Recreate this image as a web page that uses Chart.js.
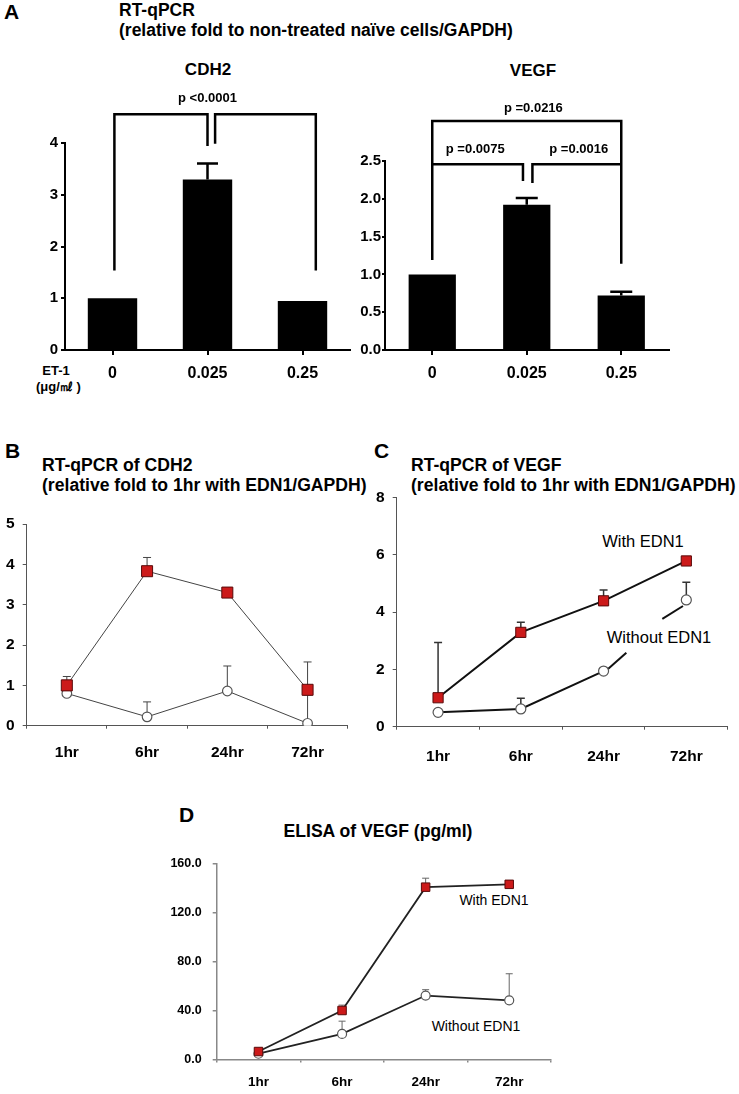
<!DOCTYPE html>
<html>
<head>
<meta charset="utf-8">
<script src="https://cdn.jsdelivr.net/npm/chart.js@4.4.1/dist/chart.umd.min.js"></script>
<style>
  body { margin: 0; background: #fff; width: 739px; height: 1094px; position: relative; overflow: hidden;
         font-family: Arial, "Liberation Sans", sans-serif; }
  .t { position: absolute; white-space: nowrap; color: #000; line-height: 1; }
  .b { font-weight: bold; }
  .c { transform: translate(-50%, -50%); }
  .l { transform: translateY(-50%); }
  canvas { position: absolute; }
</style>
</head>
<body>
<!-- panel A -->
<div class="t b l" style="left:4px;top:11px;font-size:21px">A</div>
<div class="t b l" style="left:119px;top:11px;font-size:17.5px">RT-qPCR</div>
<div class="t b l" style="left:119px;top:31px;font-size:17.5px">(relative fold to non-treated naïve cells/GAPDH)</div>
<div class="t b c" style="left:208px;top:69px;font-size:17px">CDH2</div>
<div class="t b c" style="left:533px;top:70px;font-size:17px">VEGF</div>
<div class="t b c" style="left:56px;top:370px;font-size:13px">ET-1</div>
<div class="t b l" style="left:36px;top:386px;font-size:13px">(μg/㎖ )</div>
<!-- panel B -->
<div class="t b l" style="left:5px;top:450px;font-size:21px">B</div>
<div class="t b l" style="left:42px;top:466px;font-size:17.6px">RT-qPCR of CDH2</div>
<div class="t b l" style="left:42px;top:486px;font-size:17.6px">(relative fold to 1hr with EDN1/GAPDH)</div>
<!-- panel C -->
<div class="t b l" style="left:374px;top:450px;font-size:21px">C</div>
<div class="t b l" style="left:411px;top:466px;font-size:17.6px">RT-qPCR of VEGF</div>
<div class="t b l" style="left:411px;top:486px;font-size:17.6px">(relative fold to 1hr with EDN1/GAPDH)</div>
<div class="t c" style="left:643px;top:541px;font-size:16.5px">With EDN1</div>
<div class="t c" style="left:659px;top:637px;font-size:16.5px">Without EDN1</div>
<!-- panel D -->
<div class="t b l" style="left:179px;top:814px;font-size:21px">D</div>
<div class="t b c" style="left:378px;top:832px;font-size:17.6px">ELISA of VEGF (pg/ml)</div>
<div class="t c" style="left:494px;top:900px;font-size:14px">With EDN1</div>
<div class="t c" style="left:476px;top:1026px;font-size:14px">Without EDN1</div>

<canvas id="cdh2Bar"></canvas>
<canvas id="vegfBar"></canvas>
<canvas id="cdh2Time"></canvas>
<canvas id="vegfTime"></canvas>
<canvas id="elisaTime"></canvas>

<script>
const FONT = 'Arial, "Liberation Sans", sans-serif';

// A: dose response (ET-1, ug/ml)
const doseLabels = ['0', '0.025', '0.25'];
const cdh2Fold = [1.0, 3.30, 0.95];
const cdh2FoldSd = [0, 0.31, 0];
const vegfFold = [1.0, 1.92, 0.72];
const vegfFoldSd = [0, 0.09, 0.05];

// B-D: time course
const timeLabels = ['1hr', '6hr', '24hr', '72hr'];
const cdh2With = [1.0, 3.83, 3.30, 0.89];
const cdh2WithSd = [0.22, 0.34, 0, 0.69];
const cdh2Without = [0.80, 0.22, 0.86, 0.06];
const cdh2WithoutSd = [0, 0.37, 0.62, 0.70];

const vegfWith = [1.01, 3.29, 4.39, 5.78];
const vegfWithSd = [1.93, 0.35, 0.38, 0];
const vegfWithout = [0.50, 0.62, 1.94, 4.42];
const vegfWithoutSd = [0, 0.37, 0, 0.62];

const elisaWith = [6.5, 40.0, 140.7, 143.0];
const elisaWithSd = [0, 4.4, 7.3, 0];
const elisaWithout = [4.7, 20.9, 52.2, 48.3];
const elisaWithoutSd = [0, 10.4, 4.8, 21.7];

// significance brackets, in (category index, value) units
const cdh2Brackets = [
    [[0.02, 1.54], [0.02, 4.56], [1.0, 4.56], [1.0, 3.95]],
    [[1.08, 3.99], [1.08, 4.56], [2.14, 4.56], [2.14, 1.54]]
];
const cdh2PLabels = [{ text: 'p <0.0001', x: 1.0, y: 4.86 }];
const vegfBrackets = [
    [[0, 1.19], [0, 3.03], [2, 3.03], [2, 1.14]],
    [[0, 2.456], [0.96, 2.456], [0.96, 2.235]],
    [[1.06, 2.21], [1.06, 2.456], [2, 2.456]]
];
const vegfPLabels = [
    { text: 'p =0.0216', x: 1.07, y: 3.2 },
    { text: 'p =0.0075', x: 0.455, y: 2.65 },
    { text: 'p =0.0016', x: 1.55, y: 2.65 }
];
// "Without EDN1" label sits in a gap of the 24hr -> 72hr segment
const vegfLeaders = [
    [[2.71, 3.76], [2.96, 4.21]],
    [[2.275, 2.58], [2.05, 2.0]]
];

function drawErrors(chart, sds, color, width, cap) {
    const ctx = chart.ctx, y = chart.scales.y;
    ctx.save();
    ctx.strokeStyle = color;
    ctx.lineWidth = width;
    sds.forEach((list, di) => {
        const meta = chart.getDatasetMeta(di);
        const vals = chart.data.datasets[di].data;
        list.forEach((e, j) => {
            if (!e) return;
            const el = meta.data[j];
            const top = y.getPixelForValue(vals[j] + e);
            ctx.beginPath();
            ctx.moveTo(el.x, el.y);
            ctx.lineTo(el.x, top);
            ctx.moveTo(el.x - cap / 2, top);
            ctx.lineTo(el.x + cap / 2, top);
            ctx.stroke();
        });
    });
    ctx.restore();
}

function drawPolys(chart, polys, color, width) {
    const ctx = chart.ctx, xs = chart.scales.x, ys = chart.scales.y;
    ctx.save();
    ctx.strokeStyle = color;
    ctx.lineWidth = width;
    ctx.lineJoin = 'miter';
    polys.forEach(p => {
        ctx.beginPath();
        p.forEach(([i, v], k) => {
            const px = xs.getPixelForValue(i), py = ys.getPixelForValue(v);
            if (k === 0) ctx.moveTo(px, py); else ctx.lineTo(px, py);
        });
        ctx.stroke();
    });
    ctx.restore();
}

function drawLabels(chart, labels, font) {
    const ctx = chart.ctx, xs = chart.scales.x, ys = chart.scales.y;
    ctx.save();
    ctx.font = font;
    ctx.fillStyle = '#000';
    ctx.textAlign = 'center';
    ctx.textBaseline = 'middle';
    labels.forEach(l => ctx.fillText(l.text, xs.getPixelForValue(l.x), ys.getPixelForValue(l.y)));
    ctx.restore();
}

function buildChart(id, box, area, type, labels, datasets, o) {
    const cv = document.getElementById(id);
    cv.width = box.r - box.l;
    cv.height = box.b - box.t;
    cv.style.left = box.l + 'px';
    cv.style.top = box.t + 'px';
    const yW = area.l - box.l, xH = box.b - area.b;
    return new Chart(cv, {
        type,
        data: { labels, datasets },
        options: {
            responsive: false,
            animation: false,
            layout: { padding: { left: 0, right: box.r - area.r, top: area.t - box.t, bottom: 0 } },
            plugins: { legend: { display: false }, tooltip: { enabled: false } },
            scales: {
                x: {
                    offset: true,
                    grid: { drawOnChartArea: false, offset: o.gridOffset, tickLength: o.xTick, color: o.axisColor, lineWidth: o.axisW },
                    border: { color: o.axisColor, width: o.axisW },
                    ticks: { color: '#000', padding: o.xPad, maxRotation: 0, autoSkip: false,
                             font: { family: FONT, size: o.xFont, weight: 'bold' } },
                    afterFit(s) { s.height = xH; }
                },
                y: {
                    min: 0, max: o.yMax,
                    grid: { drawOnChartArea: false, tickLength: o.yTick, color: o.axisColor, lineWidth: o.axisW },
                    border: { color: o.axisColor, width: o.axisW },
                    ticks: { color: '#000', stepSize: o.step, padding: o.yPad,
                             font: { family: FONT, size: o.yFont, weight: 'bold' },
                             callback: v => o.dec ? v.toFixed(o.dec) : v },
                    afterFit(s) { s.width = yW; }
                }
            }
        },
        plugins: o.plugins
    });
}

// ---- A: bar charts
const barStyle = { backgroundColor: '#000', borderWidth: 0, categoryPercentage: 1.0 };

buildChart('cdh2Bar', { l: 0, t: 80, r: 360, b: 395 }, { l: 65, t: 143.3, r: 350, b: 350 }, 'bar', doseLabels,
    [{ ...barStyle, data: cdh2Fold, barPercentage: 0.52 }],
    { gridOffset: false, xTick: 5, xPad: 9, xFont: 16, yTick: 4, yPad: 3, yFont: 15, yMax: 4, step: 1, dec: 0,
      axisColor: '#000', axisW: 2,
      plugins: [{ id: 'ann', afterDatasetsDraw(c) {
          drawErrors(c, [cdh2FoldSd], '#000', 2.5, 21);
          drawPolys(c, cdh2Brackets, '#000', 2.5);
          drawLabels(c, cdh2PLabels, 'bold 13px ' + FONT);
      } }] });

buildChart('vegfBar', { l: 360, t: 80, r: 739, b: 395 }, { l: 385, t: 161, r: 668.5, b: 350 }, 'bar', doseLabels,
    [{ ...barStyle, data: vegfFold, barPercentage: 0.5 }],
    { gridOffset: false, xTick: 5, xPad: 9, xFont: 16, yTick: 3, yPad: 1, yFont: 15, yMax: 2.5, step: 0.5, dec: 1,
      axisColor: '#000', axisW: 2,
      plugins: [{ id: 'ann', afterDatasetsDraw(c) {
          drawErrors(c, [vegfFoldSd], '#000', 2.5, 22);
          drawPolys(c, vegfBrackets, '#000', 2.5);
          drawLabels(c, vegfPLabels, 'bold 13px ' + FONT);
      } }] });

// ---- B-D: time course line charts
function lineSets(withData, withoutData, lineColor, lineW, sq, circ) {
    return [
        { data: withData, borderColor: lineColor, borderWidth: lineW, tension: 0,
          pointStyle: 'rect', pointRadius: sq, pointBackgroundColor: '#cc1a1a', pointBorderColor: '#5a0a0a', pointBorderWidth: 1 },
        { data: withoutData, borderColor: lineColor, borderWidth: lineW, tension: 0,
          pointStyle: 'circle', pointRadius: circ, pointBackgroundColor: '#fff', pointBorderColor: '#555', pointBorderWidth: 1.2 }
    ];
}

buildChart('cdh2Time', { l: 0, t: 500, r: 370, b: 780 }, { l: 26.7, t: 524, r: 347.7, b: 725.7 }, 'line', timeLabels,
    lineSets(cdh2With, cdh2Without, '#444', 1, 7.8, 4.8),
    { gridOffset: true, xTick: 3, xPad: 15, xFont: 15.5, yTick: 4, yPad: 8, yFont: 15.5, yMax: 5, step: 1, dec: 0,
      axisColor: '#555', axisW: 1,
      plugins: [{ id: 'err', beforeDatasetsDraw(c) {
          drawErrors(c, [cdh2WithSd, cdh2WithoutSd], '#444', 1, 8);
      } }] });

const vegfSets = lineSets(vegfWith, vegfWithout, '#111', 2, 7.2, 5);
vegfSets[1].segment = { borderColor: s => (s.p1DataIndex === 3 ? 'rgba(0,0,0,0)' : undefined) };

buildChart('vegfTime', { l: 370, t: 480, r: 739, b: 780 }, { l: 396.7, t: 497.3, r: 727.7, b: 726.7 }, 'line', timeLabels,
    vegfSets,
    { gridOffset: true, xTick: 3, xPad: 18, xFont: 15.5, yTick: 4, yPad: 8, yFont: 15.5, yMax: 8, step: 2, dec: 0,
      axisColor: '#555', axisW: 1,
      plugins: [{ id: 'err', beforeDatasetsDraw(c) {
          drawErrors(c, [vegfWithSd, vegfWithoutSd], '#333', 1.5, 8);
          drawPolys(c, vegfLeaders, '#111', 2);
      } }] });

buildChart('elisaTime', { l: 160, t: 845, r: 570, b: 1094 }, { l: 216.7, t: 855, r: 551, b: 1059.5 }, 'line', timeLabels,
    lineSets(elisaWith, elisaWithout, '#222', 1.8, 6, 4.5),
    { gridOffset: true, xTick: 3, xPad: 12, xFont: 13.5, yTick: 4, yPad: 11, yFont: 12.5, yMax: 160, step: 40, dec: 1,
      axisColor: '#888', axisW: 1.5,
      plugins: [{ id: 'err', beforeDatasetsDraw(c) {
          drawErrors(c, [elisaWithSd, elisaWithoutSd], '#666', 1, 7);
      } }] });
</script>
</body>
</html>
